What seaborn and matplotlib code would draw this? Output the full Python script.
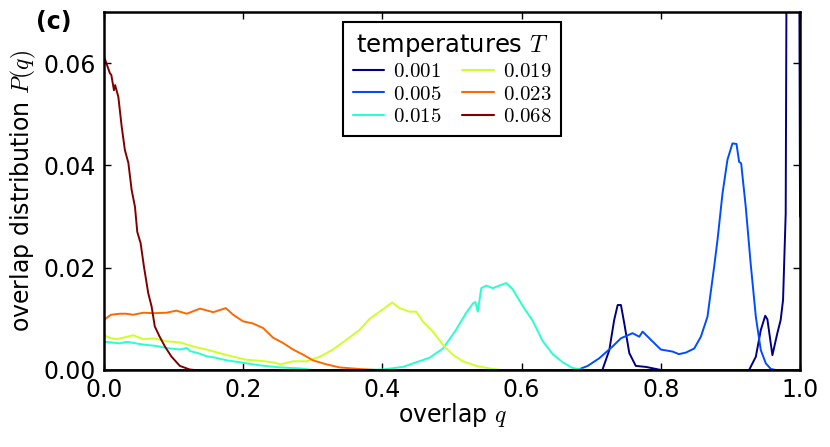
import numpy as np
import pandas as pd
import matplotlib
matplotlib.use("Agg")
import matplotlib.pyplot as plt
import seaborn as sns

# overlap distribution P(q), one curve per temperature
temperatures = ["0.001", "0.005", "0.015", "0.019", "0.023", "0.068"]

q_t001 = [0.0, 0.70, 0.716, 0.726, 0.733, 0.738, 0.7427, 0.7475, 0.7547, 0.764, 0.7786, 0.793,
          0.80, 0.92, 0.9268, 0.9365, 0.9436, 0.95, 0.9531, 0.9603, 0.9674, 0.9722, 0.9756,
          0.9794, 0.985, 0.995, 1.0]
p_t001 = [0.0, 0.0, 0.0, 0.0039, 0.0098, 0.0127, 0.0127, 0.0091, 0.0033, 0.0008, 0.0006, 0.0002,
          0.0, 0.0, 0.0, 0.0026, 0.0078, 0.0106, 0.0099, 0.0029, 0.0072, 0.0098, 0.0137,
          0.0306, 0.25, 0.25, 0.030]

q_t005 = [0.0, 0.68, 0.695, 0.7116, 0.7307, 0.7427, 0.7594, 0.769, 0.7738, 0.7857, 0.80, 0.8168,
          0.826, 0.836, 0.848, 0.8575, 0.867, 0.8766, 0.8814, 0.8886, 0.8957, 0.9029, 0.9087,
          0.9125, 0.9154, 0.922, 0.929, 0.9365, 0.9436, 0.9508, 0.958, 0.965, 1.0]
p_t005 = [0.0, 0.0, 0.0008, 0.0023, 0.0046, 0.0062, 0.0072, 0.0065, 0.0075, 0.0059, 0.0040, 0.0036,
          0.0031, 0.0034, 0.0042, 0.0065, 0.0104, 0.0202, 0.0254, 0.0345, 0.0411, 0.0443, 0.0442,
          0.0407, 0.0404, 0.0319, 0.0209, 0.0104, 0.0039, 0.0013, 0.0002, 0.0, 0.0]

q_t015 = [0.0, 0.01, 0.023, 0.032, 0.042, 0.05, 0.061, 0.075, 0.09, 0.109, 0.119, 0.1235, 0.135,
          0.147, 0.16, 0.176, 0.2, 0.224, 0.253, 0.282, 0.30, 0.37, 0.40, 0.4294, 0.4486, 0.4677,
          0.487, 0.506, 0.52, 0.53, 0.5335, 0.537, 0.542, 0.549, 0.5585, 0.568, 0.5778, 0.587,
          0.6016, 0.616, 0.630, 0.6446, 0.659, 0.673, 0.685, 0.69, 1.0]
p_t015 = [0.0055, 0.0054, 0.0052, 0.0055, 0.0053, 0.0051, 0.0049, 0.0047, 0.0043, 0.0040, 0.0043,
          0.0037, 0.0033, 0.0027, 0.0024, 0.0019, 0.0014, 0.0009, 0.0005, 0.0003, 0.0, 0.0, 0.0001,
          0.0006, 0.0015, 0.0024, 0.0042, 0.0079, 0.0111, 0.0130, 0.0133, 0.0114, 0.0160, 0.0165,
          0.0160, 0.0165, 0.0170, 0.0158, 0.0125, 0.0096, 0.0057, 0.0031, 0.0015, 0.0004, 0.0001,
          0.0, 0.0]

q_t019 = [0.0, 0.008, 0.018, 0.03, 0.042, 0.0565, 0.071, 0.09, 0.109, 0.128, 0.147, 0.166, 0.1855,
          0.2047, 0.224, 0.243, 0.2535, 0.2716, 0.291, 0.31, 0.329, 0.348, 0.367, 0.3816, 0.396,
          0.414, 0.4247, 0.439, 0.4486, 0.458, 0.4725, 0.487, 0.501, 0.5155, 0.535, 0.554, 0.57, 1.0]
p_t019 = [0.0068, 0.0063, 0.0060, 0.0064, 0.0068, 0.0060, 0.0062, 0.0056, 0.0054, 0.0046, 0.0040,
          0.0033, 0.0026, 0.0020, 0.0018, 0.0015, 0.0011, 0.0017, 0.0017, 0.0026, 0.0040, 0.0059,
          0.0078, 0.0100, 0.0114, 0.0132, 0.0121, 0.0114, 0.0114, 0.0095, 0.0075, 0.0049, 0.0030,
          0.0017, 0.0008, 0.0003, 0.0, 0.0]

q_t023 = [0.0, 0.01, 0.023, 0.031, 0.042, 0.0565, 0.071, 0.09, 0.104, 0.119, 0.138, 0.157, 0.175,
          0.1855, 0.2, 0.214, 0.2286, 0.243, 0.257, 0.2716, 0.286, 0.30, 0.3195, 0.3386, 0.366,
          0.39, 1.0]
p_t023 = [0.0098, 0.0108, 0.0110, 0.0110, 0.0108, 0.0112, 0.0111, 0.0112, 0.0116, 0.0110, 0.0120,
          0.0113, 0.0121, 0.0108, 0.0095, 0.0091, 0.0082, 0.0063, 0.0053, 0.0040, 0.0030, 0.0019,
          0.0011, 0.0005, 0.0002, 0.0, 0.0]

q_t068 = [0.001, 0.0086, 0.0105, 0.0143, 0.016, 0.0206, 0.0254, 0.030, 0.035, 0.0397, 0.0445,
          0.0478, 0.0526, 0.0574, 0.0636, 0.0684, 0.073, 0.080, 0.0875, 0.097, 0.109, 0.123, 0.13, 1.0]
p_t068 = [0.0609, 0.0580, 0.0577, 0.0547, 0.0557, 0.0534, 0.0476, 0.0430, 0.0405, 0.0352, 0.0319,
          0.0270, 0.0248, 0.0202, 0.0150, 0.0124, 0.0085, 0.0065, 0.0046, 0.0026, 0.0008, 0.0001,
          0.0, 0.0]

series = [(q_t001, p_t001), (q_t005, p_t005), (q_t015, p_t015),
          (q_t019, p_t019), (q_t023, p_t023), (q_t068, p_t068)]
frames = []
for T, (q, p) in zip(temperatures, series):
    frames.append(pd.DataFrame({"q": q, "P": p, "T": "$" + T + "$"}))
df = pd.concat(frames, ignore_index=True)

sns.set_style("ticks")
plt.rcParams["font.family"] = ["DejaVu Sans"]
plt.rcParams["mathtext.fontset"] = "cm"
plt.rcParams["text.color"] = "black"
plt.rcParams["axes.labelcolor"] = "black"
plt.rcParams["xtick.color"] = "black"
plt.rcParams["ytick.color"] = "black"

palette = [tuple(c) for c in plt.cm.jet(np.linspace(0, 1, len(temperatures)))]

fig = plt.figure(figsize=(8.3, 4.47), dpi=100)
ax = fig.add_axes([0.1253, 0.1723, 0.8386, 0.8009])

sns.lineplot(data=df, x="q", y="P", hue="T", palette=palette, estimator=None,
             sort=False, linewidth=1.4, ax=ax)

ax.set_xlim(0, 1)
ax.set_ylim(0, 0.07)
ax.set_xticks([0.0, 0.2, 0.4, 0.6, 0.8, 1.0])
ax.set_yticks([0.00, 0.02, 0.04, 0.06])
ax.set_xticklabels(["0.0", "0.2", "0.4", "0.6", "0.8", "1.0"])
ax.set_yticklabels(["0.00", "0.02", "0.04", "0.06"])
ax.tick_params(direction="in", length=5, width=1, top=True, right=True,
               labelsize=17, pad=6, colors="black")
for s in ax.spines.values():
    s.set_linewidth(1.8)
    s.set_color("black")
ax.set_xlabel("overlap $q$", fontsize=17, labelpad=-1)
ax.set_ylabel("overlap distribution $P(q)$", fontsize=17)

leg = ax.legend(title="temperatures $T$", ncol=2, loc="upper center",
                bbox_to_anchor=(0.5, 1.0), fontsize=15, title_fontsize=17.5,
                frameon=True, fancybox=False, framealpha=1.0, handlelength=1.5,
                handletextpad=0.45, columnspacing=1.0, labelspacing=0.12, borderpad=0.45)
leg.get_frame().set_edgecolor("black")
leg.get_frame().set_linewidth(1.5)
for line in leg.get_lines():
    line.set_linewidth(1.5)

fig.text(0.043, 0.95, "(c)", fontsize=17, fontweight="bold", ha="left", va="center")

fig.savefig("out.png", dpi=100)
